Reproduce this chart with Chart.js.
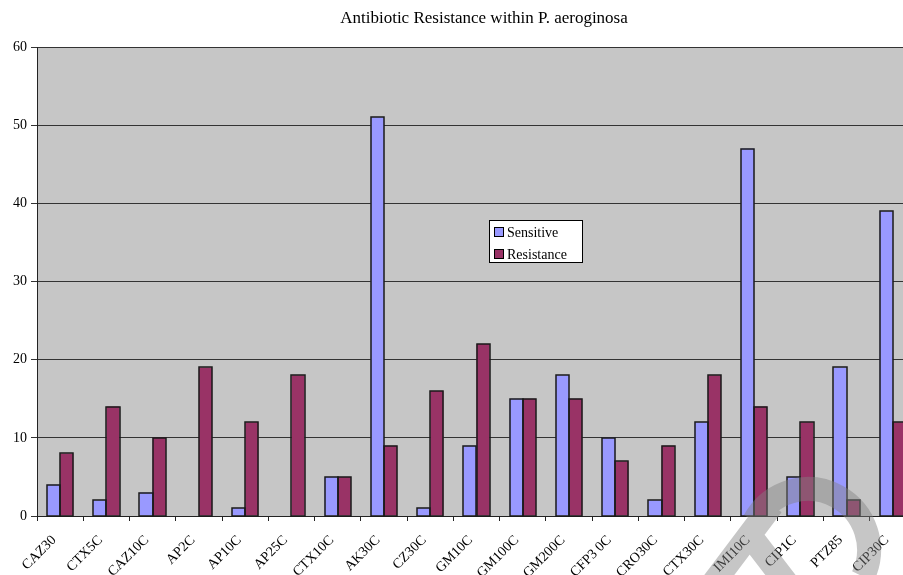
<!DOCTYPE html>
<html>
<head>
<meta charset="utf-8">
<title>Antibiotic Resistance within P. aeroginosa</title>
<script src="https://cdn.jsdelivr.net/npm/chart.js@4"></script>
<style>
    html, body { margin: 0; padding: 0; background: #fff; overflow: hidden; }
    #wrap { width: 968px; height: 575px; }
</style>
</head>
<body>
<div id="wrap"><canvas id="resistChart" width="968" height="575"></canvas></div>
<script>
const chartTitle = 'Antibiotic Resistance within P. aeroginosa';
const categories = ['CAZ30', 'CTX5C', 'CAZ10C', 'AP2C', 'AP10C', 'AP25C', 'CTX10C', 'AK30C', 'CZ30C', 'GM10C',
    'GM100C', 'GM200C', 'CFP3 0C', 'CRO30C', 'CTX30C', 'IMI10C', 'CIP1C', 'PTZ85', 'CIP30C'];
const sensitive = [4, 2, 3, 0, 1, 0, 5, 51, 1, 9, 15, 18, 10, 2, 12, 47, 5, 19, 39];
const resistance = [8, 14, 10, 19, 12, 18, 5, 9, 16, 22, 15, 15, 7, 9, 18, 14, 12, 2, 12];
const yTicks = [0, 10, 20, 30, 40, 50, 60];

const SERIF = "'Liberation Serif', 'Times New Roman', 'DejaVu Serif', serif";

// grey plot area behind the bars, title above it
const plotBackground = {
    id: 'plotBackground',
    beforeDraw(chart) {
        const { ctx, chartArea: a } = chart;
        ctx.save();
        ctx.fillStyle = '#c6c6c6';
        ctx.fillRect(a.left, a.top, a.right - a.left, a.bottom - a.top);
        ctx.fillStyle = '#000';
        ctx.font = '17px ' + SERIF;
        ctx.textAlign = 'center';
        ctx.textBaseline = 'middle';
        ctx.fillText(chartTitle, 484, 19);
        ctx.restore();
    }
};

// black outline round every bar, drawn on whole pixels
const barOutline = {
    id: 'barOutline',
    afterDatasetsDraw(chart) {
        const ctx = chart.ctx;
        ctx.save();
        ctx.strokeStyle = '#1a1a1a';
        ctx.lineWidth = 1.5;
        chart.data.datasets.forEach((ds, i) => {
            chart.getDatasetMeta(i).data.forEach(bar => {
                const { x, y, base, width } = bar.getProps(['x', 'y', 'base', 'width'], true);
                if (base - y < 0.5) return;
                const l = Math.round(x - width / 2), r = Math.round(x + width / 2);
                ctx.strokeRect(l, Math.round(y), r - l, Math.round(base) - Math.round(y));
            });
        });
        ctx.restore();
    }
};

// boxed legend sitting inside the plot
const boxLegend = {
    id: 'boxLegend',
    afterDatasetsDraw(chart) {
        const ctx = chart.ctx;
        const x = 489, y = 220, w = 93, h = 42;
        ctx.save();
        ctx.fillStyle = '#fff';
        ctx.fillRect(x, y, w, h);
        ctx.strokeStyle = '#000';
        ctx.lineWidth = 1;
        ctx.strokeRect(x + 0.5, y + 0.5, w, h);
        ctx.font = '14px ' + SERIF;
        ctx.textBaseline = 'middle';
        chart.data.datasets.forEach((ds, i) => {
            const cy = y + 12 + i * 22;
            ctx.fillStyle = ds.backgroundColor;
            ctx.fillRect(x + 5.5, cy - 4.5, 9, 9);
            ctx.strokeStyle = '#000';
            ctx.strokeRect(x + 5.5, cy - 4.5, 9, 9);
            ctx.fillStyle = '#000';
            ctx.fillText(ds.label, x + 18, cy + 1);
        });
        ctx.restore();
    }
};

// translucent logo stamp in the lower right corner
const logoStamp = {
    id: 'logoStamp',
    afterDraw(chart) {
        const ctx = chart.ctx;
        ctx.save();
        ctx.strokeStyle = 'rgba(128,128,128,0.45)';
        ctx.lineWidth = 24;
        ctx.lineCap = 'butt';
        ctx.beginPath();
        ctx.arc(808, 550, 61, Math.PI + 0.5, 0.45);
        ctx.moveTo(708, 590);
        ctx.lineTo(772, 505);
        ctx.moveTo(752, 538);
        ctx.lineTo(792, 590);
        ctx.stroke();
        ctx.restore();
    }
};

const barStyle = {
    borderWidth: 0,
    barPercentage: 1,
    categoryPercentage: 0.57
};

new Chart(document.getElementById('resistChart'), {
    type: 'bar',
    data: {
        labels: categories,
        datasets: [
            Object.assign({ label: 'Sensitive', data: sensitive, backgroundColor: '#9999ff' }, barStyle),
            Object.assign({ label: 'Resistance', data: resistance, backgroundColor: '#993366' }, barStyle)
        ]
    },
    options: {
        responsive: false,
        animation: false,
        layout: { padding: { left: 0, right: 52, top: 47, bottom: 0 } },
        plugins: {
            legend: { display: false },
            tooltip: { enabled: false },
            title: { display: false }
        },
        scales: {
            x: {
                afterFit(scale) { scale.height = 59; },
                grid: {
                    offset: true,
                    drawOnChartArea: false,
                    drawTicks: true,
                    tickLength: 5,
                    color: '#222'
                },
                border: { color: '#222', width: 1 },
                ticks: {
                    color: '#000',
                    autoSkip: false,
                    maxRotation: 45,
                    minRotation: 45,
                    padding: 11,
                    labelOffset: -6,
                    font: { family: SERIF, size: 14 }
                }
            },
            y: {
                min: 0,
                max: 60,
                afterFit(scale) { scale.width = 37; },
                afterBuildTicks(scale) { scale.ticks = yTicks.map(v => ({ value: v })); },
                grid: {
                    color: '#333',
                    lineWidth: 1,
                    tickLength: 6
                },
                border: { color: '#222', width: 1 },
                ticks: {
                    color: '#000',
                    padding: 4,
                    font: { family: SERIF, size: 14 }
                }
            }
        }
    },
    plugins: [plotBackground, barOutline, boxLegend, logoStamp]
});
</script>
</body>
</html>
